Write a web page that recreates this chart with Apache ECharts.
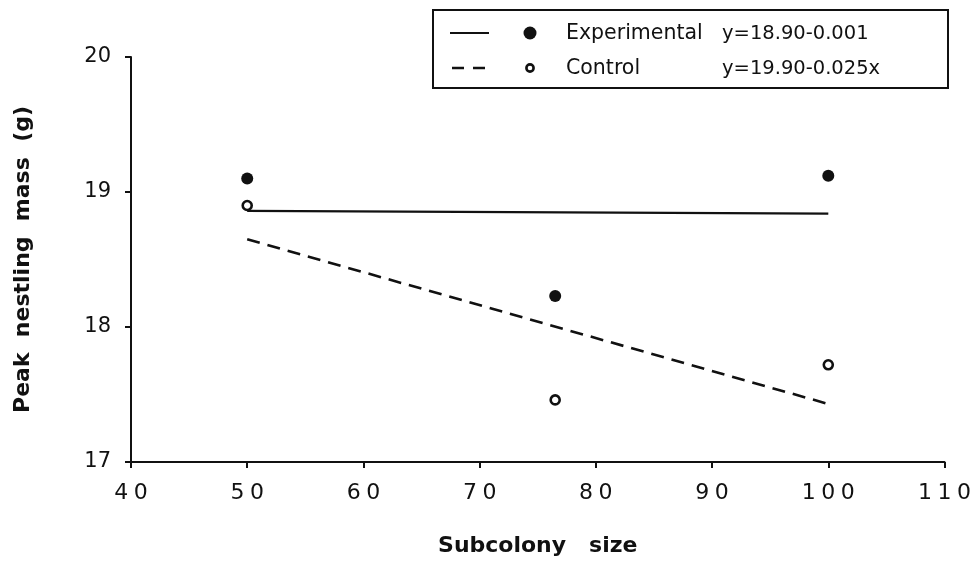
<!DOCTYPE html>
<html>
<head>
<meta charset="utf-8">
<script src="https://cdn.jsdelivr.net/npm/echarts@6/dist/echarts.min.js"></script>
<style>html,body{margin:0;padding:0;background:#fff;}#c{width:974px;height:562px;}</style>
</head>
<body>
<div id="c"></div>
<script>
// Data
const experimentalX = [50, 76.5, 100];
const experimentalY = [19.10, 18.23, 19.12];
const controlX = [50, 76.5, 100];
const controlY = [18.90, 17.46, 17.72];
const expFitX = [50, 100];
const expFitY = [18.86, 18.84];
const ctlFitX = [50, 100];
const ctlFitY = [18.65, 17.43];
const legendNames = ['Experimental', 'Control'];
const legendEquations = ['y=18.90-0.001', 'y=19.90-0.025x'];
const xTitle = 'Subcolony   size';
const yTitle = 'Peak  nestling  mass  (g)';

const zip = (xs, ys) => xs.map((x, i) => [x, ys[i]]);
const FONT = '"DejaVu Sans", "Liberation Sans", Arial, sans-serif';
const INK = '#111';

const chart = echarts.init(document.getElementById('c'), null, {renderer: 'canvas'});
chart.setOption({
  backgroundColor: '#ffffff',
  animation: false,
  grid: {left: 131, right: 29, top: 57, bottom: 96, containLabel: false},
  xAxis: {
    type: 'value', min: 40, max: 110, interval: 10,
    name: xTitle, nameLocation: 'middle', nameGap: 73,
    nameTextStyle: {fontFamily: FONT, fontSize: 22, fontWeight: 'bold', color: INK},
    axisLine: {show: true, lineStyle: {color: INK, width: 2}},
    axisTick: {show: true, inside: false, length: 6, lineStyle: {color: INK, width: 2}},
    axisLabel: {margin: 20, fontFamily: FONT, fontSize: 22, color: INK,
      formatter: v => String(v).split('').join('\u2005')},
    splitLine: {show: false}
  },
  yAxis: {
    type: 'value', min: 17, max: 20, interval: 1,
    name: yTitle, nameLocation: 'middle', nameGap: 97, nameRotate: 90,
    nameTextStyle: {fontFamily: FONT, fontSize: 22, fontWeight: 'bold', color: INK},
    axisLine: {show: true, lineStyle: {color: INK, width: 2}},
    axisTick: {show: true, inside: false, length: 6, lineStyle: {color: INK, width: 2}},
    axisLabel: {margin: 20, fontFamily: FONT, fontSize: 21, color: INK},
    splitLine: {show: false}
  },
  series: [
    {name: 'ExpFit', type: 'line', data: zip(expFitX, expFitY), symbol: 'none',
      lineStyle: {color: INK, width: 2.2}, z: 2},
    {name: 'CtlFit', type: 'line', data: zip(ctlFitX, ctlFitY), symbol: 'none',
      lineStyle: {color: INK, width: 2.6, type: [13, 8]}, z: 2},
    {name: legendNames[0], type: 'scatter', data: zip(experimentalX, experimentalY),
      symbol: 'circle', symbolSize: 12, itemStyle: {color: INK, opacity: 1}, z: 3},
    {name: legendNames[1], type: 'scatter', data: zip(controlX, controlY),
      symbol: 'circle', symbolSize: 9, itemStyle: {color: '#fff', borderColor: INK, borderWidth: 2.6, opacity: 1}, z: 3}
  ],
  graphic: [
    {type: 'rect', shape: {x: 433, y: 10, width: 515, height: 78},
      style: {fill: '#fff', stroke: INK, lineWidth: 2}, z: 10},
    {type: 'line', shape: {x1: 450, y1: 33, x2: 489, y2: 33},
      style: {stroke: INK, lineWidth: 2.2}, z: 11},
    {type: 'line', shape: {x1: 452, y1: 68, x2: 485, y2: 68},
      style: {stroke: INK, lineWidth: 2.6, lineDash: [12, 9]}, z: 11},
    {type: 'circle', shape: {cx: 530, cy: 33, r: 6.5}, style: {fill: INK}, z: 11},
    {type: 'circle', shape: {cx: 530, cy: 68, r: 3.6}, style: {fill: '#fff', stroke: INK, lineWidth: 2.6}, z: 11},
    {type: 'text', x: 566, y: 34, style: {text: legendNames[0], fontFamily: FONT, fontSize: 20.5, fill: INK, verticalAlign: 'middle'}, z: 11},
    {type: 'text', x: 566, y: 69, style: {text: legendNames[1], fontFamily: FONT, fontSize: 20.5, fill: INK, verticalAlign: 'middle'}, z: 11},
    {type: 'text', x: 722, y: 34, style: {text: legendEquations[0], fontFamily: FONT, fontSize: 19.5, fill: INK, verticalAlign: 'middle'}, z: 11},
    {type: 'text', x: 722, y: 69, style: {text: legendEquations[1], fontFamily: FONT, fontSize: 19.5, fill: INK, verticalAlign: 'middle'}, z: 11}
  ]
});
</script>
</body>
</html>
